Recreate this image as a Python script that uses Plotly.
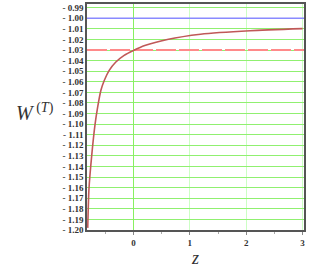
import plotly.graph_objects as go

z_vals = [-0.812, -0.79, -0.742, -0.684, -0.636, -0.578, -0.519, -0.431, -0.313, -0.166, 0.0, 0.2, 0.6, 1.19, 2.07, 3.0]
w_vals = [-1.198, -1.161, -1.130, -1.101, -1.084, -1.068, -1.0588, -1.0492, -1.0413, -1.0350, -1.0304, -1.0258, -1.0200, -1.0150, -1.0117, -1.0098]

blue_level = -1.00
red_level = -1.03

y_ticks = [round(-0.99 - 0.01 * i, 2) for i in range(22)]
y_ticktext = ["<b>- %.2f</b>" % abs(v) for v in y_ticks]
x_ticks = [0, 1, 2, 3]
x_ticktext = ["<b>%d</b>" % v for v in x_ticks]
x_range = [-0.825, 3.025]
y_range = [-1.2, -0.9865]

fig = go.Figure()
fig.add_trace(go.Scatter(x=x_range, y=[blue_level, blue_level], mode="lines",
                         line=dict(color="#8a8aff", width=1.5), hoverinfo="skip"))
fig.add_trace(go.Scatter(x=x_range, y=[red_level, red_level], mode="lines",
                         line=dict(color="#ff8a8a", width=2, dash="20px,3px"), hoverinfo="skip"))
fig.add_trace(go.Scatter(x=z_vals, y=w_vals, mode="lines", line_shape="spline",
                         line=dict(color="#c05858", width=1.6, smoothing=0.6)))

serif = "Liberation Serif"
fig.update_layout(
    width=309, height=270, showlegend=False,
    margin=dict(l=87, r=5, t=4, b=40, autoexpand=False),
    paper_bgcolor="white", plot_bgcolor="white",
    xaxis=dict(range=x_range, tickvals=x_ticks, ticktext=x_ticktext, automargin=False,
               showgrid=True, gridcolor="#ccffc4", gridwidth=1,
               zeroline=True, zerolinecolor="#88f060", zerolinewidth=1.2,
               showline=True, mirror=True, linecolor="#555555", linewidth=1.5,
               ticks="outside", ticklen=3, tickcolor="#888888",
               minor=dict(dtick=0.5, ticks="outside", ticklen=2, tickcolor="#aaaaaa", showgrid=False),
               tickfont=dict(family=serif, size=9, color="#333333"),
               title=dict(text="<i>z</i>", font=dict(family=serif, size=18, color="#333333"), standoff=4)),
    yaxis=dict(range=y_range, tickvals=y_ticks, ticktext=y_ticktext, automargin=False,
               showgrid=True, gridcolor="#90f070", gridwidth=1.2, zeroline=False,
               showline=True, mirror=True, linecolor="#555555", linewidth=1.5,
               ticks="", tickfont=dict(family=serif, size=9, color="#333333")),
    annotations=[dict(text="<i>W</i><sup> (<i>T</i>)</sup>", xref="paper", yref="paper",
                      x=-0.145, y=0.52, xanchor="right", yanchor="middle", showarrow=False,
                      font=dict(family=serif, size=20, color="#333333"))],
)
fig.write_html("out.html", config={"displayModeBar": False},
               post_script="document.body.style.margin='0';document.body.style.overflow='hidden';")
